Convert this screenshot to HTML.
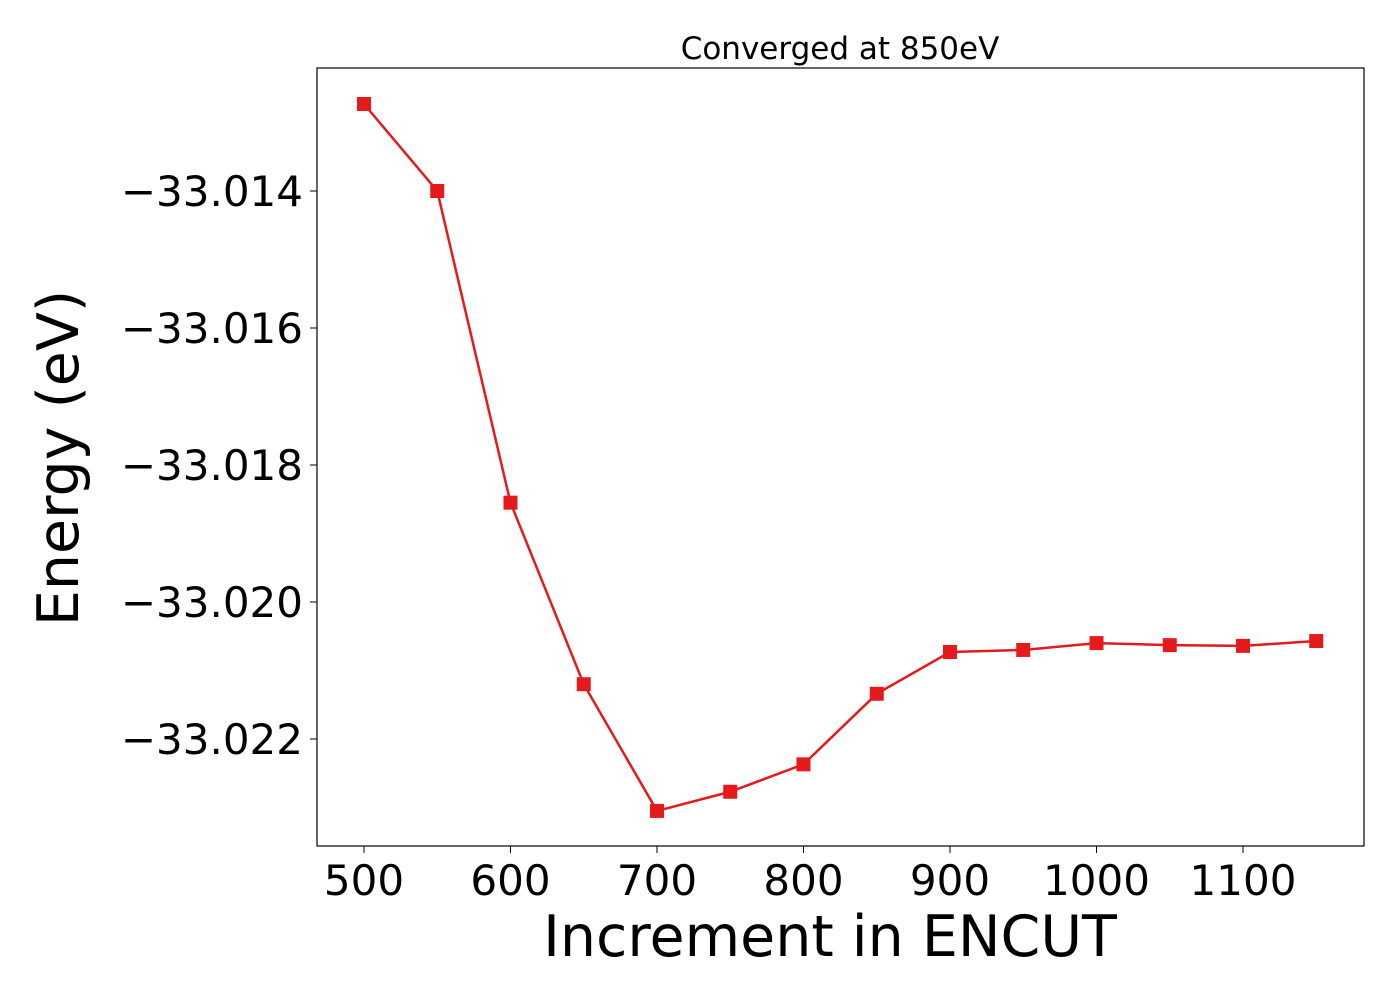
<!DOCTYPE html>
<html><head><meta charset="utf-8"><style>
html,body{margin:0;padding:0;background:#fff;}
svg text{font-family:"DejaVu Sans","Liberation Sans",sans-serif;fill:#000;}
</style></head><body>
<svg id="chart" width="1400" height="1000" xmlns="http://www.w3.org/2000/svg">
<rect width="1400" height="1000" fill="#fff"/>
<text x="840" y="59" font-size="31" text-anchor="middle">Converged at 850eV</text>
<g id="xticks"></g>
<g id="yticks"></g>
<g id="series"></g>
<rect x="317" y="68" width="1047" height="778" fill="none" stroke="#000" stroke-width="1.2"/>
<text x="830" y="956" font-size="57" text-anchor="middle">Increment in ENCUT</text>
<text transform="translate(78,458) rotate(-90)" font-size="57" text-anchor="middle">Energy (eV)</text>
</svg>
<script>
const encut = [500,550,600,650,700,750,800,850,900,950,1000,1050,1100,1150];
const energy = [-33.01273,-33.0140,-33.01855,-33.02120,-33.02305,-33.02277,-33.02237,-33.02134,-33.02073,-33.02070,-33.02060,-33.02063,-33.02064,-33.02057];
const xTickValues = [500,600,700,800,900,1000,1100];
const yTickValues = [-33.014,-33.016,-33.018,-33.020,-33.022];
const yTickLabels = ["\u221233.014","\u221233.016","\u221233.018","\u221233.020","\u221233.022"];
const NS="http://www.w3.org/2000/svg";
function xs(v){return 364+(v-500)*(879/600);}
function ys(v){return 191+(-33.014-v)*68500;}
const xg=document.getElementById('xticks'), yg=document.getElementById('yticks'), sg=document.getElementById('series');
xTickValues.forEach(v=>{
  const l=document.createElementNS(NS,'line');
  
  
  l.setAttribute('x1',xs(v));l.setAttribute('x2',xs(v));l.setAttribute('y1',846);l.setAttribute('y2',853);l.setAttribute('stroke','#000');
  xg.appendChild(l);
  const t=document.createElementNS(NS,'text');
  
  
  t.setAttribute('x',xs(v));t.setAttribute('y',895);t.setAttribute('font-size','42');t.setAttribute('text-anchor','middle');
  t.textContent=v;xg.appendChild(t);
});
yTickValues.forEach((v,i)=>{
  const l=document.createElementNS(NS,'line');
  
  
  l.setAttribute('x1',310);l.setAttribute('x2',317);l.setAttribute('y1',ys(v));l.setAttribute('y2',ys(v));l.setAttribute('stroke','#000');
  yg.appendChild(l);
  const t=document.createElementNS(NS,'text');
  
  
  t.setAttribute('x',303);t.setAttribute('y',ys(v)+15);t.setAttribute('font-size','42');t.setAttribute('text-anchor','end');
  t.textContent=yTickLabels[i];yg.appendChild(t);
});
const p=document.createElementNS(NS,'polyline');


p.setAttribute('points',encut.map((x,i)=>xs(x)+','+ys(energy[i])).join(' '));
p.setAttribute('fill','none');p.setAttribute('stroke','#e41a1c');p.setAttribute('stroke-width','2.5');
sg.appendChild(p);
encut.forEach((x,i)=>{
  const r=document.createElementNS(NS,'rect');
  
  
  r.setAttribute('x',xs(x)-7);r.setAttribute('y',ys(energy[i])-7);r.setAttribute('width',14);r.setAttribute('height',14);r.setAttribute('fill','#e41a1c');
  sg.appendChild(r);
});
</script>
</body></html>
